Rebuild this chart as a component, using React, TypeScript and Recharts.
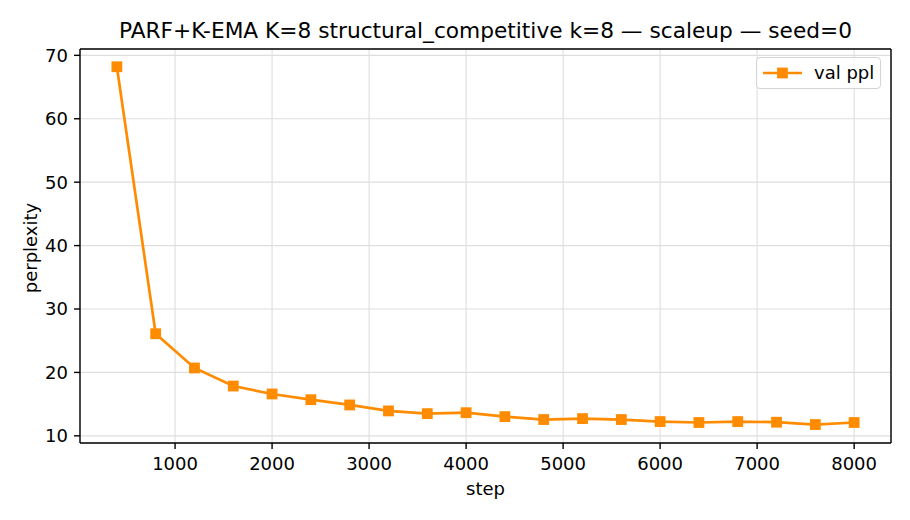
import { CartesianGrid, Line, LineChart, ReferenceLine, XAxis, YAxis } from "recharts";

const steps = [400, 800, 1200, 1600, 2000, 2400, 2800, 3200, 3600, 4000, 4400, 4800, 5200, 5600, 6000, 6400, 6800, 7200, 7600, 8000];
const valPpl = [68.2, 26.1, 20.7, 17.85, 16.6, 15.7, 14.87, 13.93, 13.5, 13.65, 13.03, 12.57, 12.72, 12.57, 12.25, 12.1, 12.25, 12.15, 11.78, 12.1];
const xTicks = [1000, 2000, 3000, 4000, 5000, 6000, 7000, 8000];
const yTicks = [10, 20, 30, 40, 50, 60, 70];

const data = steps.map((step, i) => ({ step, ppl: valPpl[i] }));

const X_DOMAIN: [number, number] = [20, 8380];
const Y_DOMAIN: [number, number] = [8.87, 71.0];

const ORANGE = "#ff8c00";
const FONT = "'DejaVu Sans', sans-serif";
const tickStyle = { fill: "#000", fontSize: 18, fontFamily: FONT };
const axisLine = { stroke: "#000", strokeWidth: 1.4 };

const SquareDot = (props: any) => {
  const { cx, cy, index } = props;
  if (cx == null || cy == null) return <g key={index} />;
  return <rect key={index} x={cx - 5.4} y={cy - 5.4} width={10.8} height={10.8} fill={ORANGE} />;
};

export default function App() {
  return (
    <div style={{ position: "absolute", left: 0, top: 0, width: 910, height: 520, background: "#fff", fontFamily: FONT }}>
      <LineChart width={910} height={520} data={data} margin={{ top: 49, right: 19, left: 10, bottom: 37 }}>
        <CartesianGrid stroke="#dedede" strokeWidth={1.1} />
        <XAxis
          dataKey="step"
          type="number"
          domain={X_DOMAIN}
          ticks={xTicks}
          height={40}
          tickSize={6}
          tickMargin={8}
          axisLine={axisLine}
          tickLine={axisLine}
          tick={tickStyle}
        />
        <YAxis
          type="number"
          domain={Y_DOMAIN}
          ticks={yTicks}
          width={70}
          tickSize={6}
          tickMargin={6}
          axisLine={axisLine}
          tickLine={axisLine}
          tick={tickStyle}
        />
        <ReferenceLine y={Y_DOMAIN[1]} stroke="#000" strokeWidth={1.4} />
        <ReferenceLine x={X_DOMAIN[1]} stroke="#000" strokeWidth={1.4} />
        <Line
          dataKey="ppl"
          stroke={ORANGE}
          strokeWidth={2.7}
          dot={<SquareDot />}
          activeDot={false}
          isAnimationActive={false}
        />
      </LineChart>
      <div style={{ position: "absolute", left: 80, width: 811, top: 18, textAlign: "center", fontSize: 21.7, whiteSpace: "nowrap" }}>
        PARF+K-EMA K=8 structural_competitive k=8 — scaleup — seed=0
      </div>
      <div style={{ position: "absolute", left: 80, width: 811, top: 478, textAlign: "center", fontSize: 18 }}>step</div>
      <div
        style={{
          position: "absolute",
          left: 30,
          top: 248,
          fontSize: 18,
          transform: "translate(-50%, -50%) rotate(-90deg)",
          whiteSpace: "nowrap",
        }}
      >
        perplexity
      </div>
      <div
        style={{
          position: "absolute",
          left: 756,
          top: 57,
          width: 125,
          height: 32,
          border: "1px solid #d4d4d4",
          borderRadius: 4,
          background: "rgba(255,255,255,0.8)",
          boxSizing: "border-box",
        }}
      >
        <svg width={40} height={12} style={{ position: "absolute", left: 6, top: 9 }}>
          <line x1={0} y1={6} x2={39} y2={6} stroke={ORANGE} strokeWidth={2.7} />
          <rect x={14.1} y={0.6} width={10.8} height={10.8} fill={ORANGE} />
        </svg>
        <span style={{ position: "absolute", left: 57, top: 4, fontSize: 18, lineHeight: "22px" }}>val ppl</span>
      </div>
    </div>
  );
}
